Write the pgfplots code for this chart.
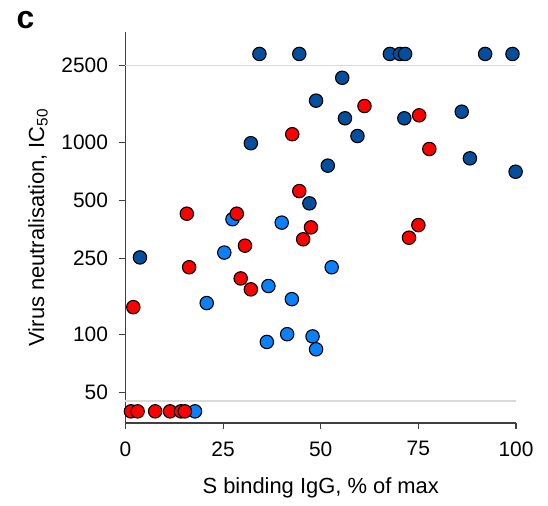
\documentclass[border=0pt]{standalone}
\usepackage{fontspec}
\setmainfont{Liberation Sans}
\usepackage{pgfplots}
\pgfplotsset{compat=1.18}
\definecolor{dblue}{RGB}{4,78,158}
\definecolor{lblue}{RGB}{10,128,250}
\definecolor{myred}{RGB}{255,0,0}
\definecolor{axgray}{RGB}{64,64,64}
\definecolor{lgray}{RGB}{217,217,217}
\begin{document}
\begin{tikzpicture}
\begin{axis}[
  scale only axis,
  width=390.5bp, height=391bp,
  xmin=0, xmax=100,
  ymode=log, ymin=34.8, ymax=3732,
  axis lines=left,
  axis line style={-, axgray, line width=1.3bp},
  tick style={axgray, line width=1.1bp},
  tick align=outside,
  major tick length=6bp,
  yminorticks=false,
  xtick={0,25,50,75,100},
  ytick={50,100,250,500,1000,2500},
  yticklabels={50,100,250,500,1000,2500},
  /pgf/number format/assume math mode=true,
  tick label style={font=\fontsize{21}{25}\selectfont, black},
  yticklabel style={xshift=-8bp},
  xticklabel style={yshift=-9bp},
  label style={font=\fontsize{22}{26}\selectfont},
  xlabel={S binding IgG, \% of max},
  ylabel={Virus neutralisation, IC\textsubscript{50}},
  x label style={at={(axis description cs:0.5,-0.166)}, anchor=center},
  y label style={at={(axis description cs:-0.224,0.5)}, anchor=center},
  clip=false,
]
\addplot[lgray, line width=1.5bp, forget plot] coordinates {(0,2500) (100,2500)};
\addplot[lgray, line width=1.5bp, forget plot] coordinates {(0,45.3) (100,45.3)};
% light blue
\addplot[only marks, mark=*, mark size=6.7bp, mark options={fill=lblue, draw=black, line width=1.1bp}] coordinates {
(27.4,398) (40.0,382) (25.3,267) (52.8,224) (36.6,179) (20.8,146) (42.6,153)
(36.2,91.7) (41.4,100.6) (47.9,98) (48.8,84) (17.8,40)
};
% dark blue
\addplot[only marks, mark=*, mark size=6.7bp, mark options={fill=dblue, draw=black, line width=1.1bp}] coordinates {
(34.3,2870) (44.5,2870) (67.7,2870) (70.3,2870) (71.6,2870) (92.1,2870) (99.1,2870)
(55.5,2159) (48.8,1642) (56.2,1330) (71.4,1330) (86.1,1439) (59.4,1076) (32.1,987)
(51.8,755) (88.2,824) (99.9,702) (47.1,481) (3.7,252)
};
% red
\addplot[only marks, mark=*, mark size=6.7bp, mark options={fill=myred, draw=black, line width=1.1bp}] coordinates {
(42.7,1099) (61.2,1540) (75.2,1378) (77.8,921) (44.5,557) (15.7,425) (28.5,425)
(47.5,361) (75.0,371) (45.5,313) (72.6,319) (30.6,290) (16.3,224) (29.5,196)
(32.1,172) (2.0,139)
(1.4,40) (3.1,40) (7.6,40) (11.4,40) (14.2,40) (15.2,40)
};
\end{axis}
\node[font=\fontsize{32}{36}\selectfont\bfseries, anchor=center] at ([shift={(-100bp,12bp)}]current axis.north west) {c};
\pgfresetboundingbox
\path[use as bounding box] ([shift={(-125.5bp,-83bp)}]current axis.south west) rectangle ([shift={(32bp,32bp)}]current axis.north east);
\end{tikzpicture}
\end{document}
